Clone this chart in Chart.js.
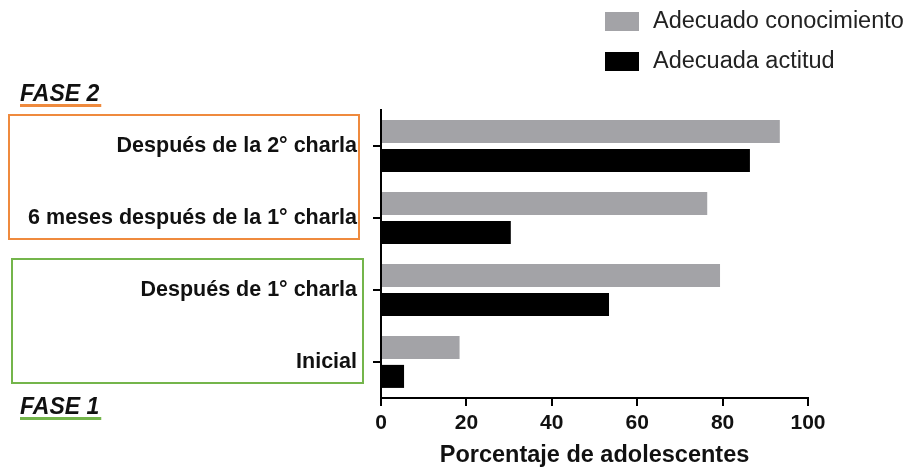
<!DOCTYPE html>
<html>
<head>
<meta charset="utf-8">
<script src="https://cdn.jsdelivr.net/npm/chart.js@4.4.1/dist/chart.umd.min.js"></script>
<style>
    html, body { margin: 0; padding: 0; background: #fff; }
    #wrap { width: 907px; height: 470px; position: relative; }
</style>
</head>
<body>
<div id="wrap"><canvas id="chart"></canvas></div>
<script>
const categories = ['Después de la 2° charla', '6 meses después de la 1° charla', 'Después de 1° charla', 'Inicial']
const conocimiento = [93.4, 76.4, 79.4, 18.4]
const actitud = [86.4, 30.4, 53.4, 5.4]
const xTicks = [0, 20, 40, 60, 80, 100]
const seriesNames = ['Adecuado conocimiento', 'Adecuada actitud']
const phases = [
    { label: 'FASE 2', first: 0, last: 1, color: '#ef8a3d', left: 9, right: 359, labelAbove: true },
    { label: 'FASE 1', first: 2, last: 3, color: '#74b54b', left: 12, right: 363, labelAbove: false }
]

const font = "'Liberation Sans', Arial, Helvetica, sans-serif"

// Boxes, phase labels and legend
const decorations = {
    id: 'decorations',
    afterDraw(chart) {
        const ctx = chart.ctx
        const y = chart.scales.y
        ctx.save()

        phases.forEach(p => {
            const top = y.getPixelForValue(p.first) - 31
            const bottom = y.getPixelForValue(p.last) + 21
            ctx.strokeStyle = p.color
            ctx.lineWidth = 2
            ctx.strokeRect(p.left, top, p.right - p.left, bottom - top)

            ctx.font = `italic bold 23px ${font}`
            ctx.fillStyle = '#111'
            ctx.textAlign = 'left'
            ctx.textBaseline = 'alphabetic'
            const base = p.labelAbove ? top - 14 : bottom + 31
            ctx.fillText(p.label, 20, base)
            const w = ctx.measureText(p.label).width
            ctx.fillStyle = p.color
            ctx.fillRect(20, base + 3, w + 2, 3)
        })

        // legend
        chart.data.datasets.forEach((ds, i) => {
            const ly = 12 + i * 40
            ctx.fillStyle = ds.backgroundColor
            ctx.fillRect(605, ly, 34, 19)
            ctx.fillStyle = '#222'
            ctx.font = `23.5px ${font}`
            ctx.textAlign = 'left'
            ctx.textBaseline = 'middle'
            ctx.fillText(ds.label, 653, ly + 10)
        })

        ctx.restore()
    }
}

new Chart(document.getElementById('chart'), {
    type: 'bar',
    data: {
        labels: categories,
        datasets: [
            { label: seriesNames[0], data: conocimiento, backgroundColor: '#a3a3a7' },
            { label: seriesNames[1], data: actitud, backgroundColor: '#000000' }
        ]
    },
    options: {
        indexAxis: 'y',
        responsive: true,
        maintainAspectRatio: false,
        animation: false,
        categoryPercentage: 0.8,
        barPercentage: 0.8,
        layout: { padding: { top: 110, right: 99, left: 0, bottom: 0 } },
        plugins: {
            legend: { display: false },
            tooltip: { enabled: false }
        },
        scales: {
            x: {
                min: 0,
                max: 100,
                afterBuildTicks: scale => { scale.ticks = xTicks.map(v => ({ value: v })) },
                afterFit: scale => { scale.height = 72 },
                border: { display: true, color: '#000', width: 2 },
                grid: { drawOnChartArea: false, drawTicks: true, tickLength: 8, color: '#000', lineWidth: 2 },
                ticks: { color: '#111', padding: 5, font: { family: font, size: 21, weight: 'bold' } },
                title: {
                    display: true,
                    text: 'Porcentaje de adolescentes',
                    color: '#111',
                    padding: { top: 1, bottom: 0 },
                    font: { family: font, size: 23.5, weight: 'bold' }
                }
            },
            y: {
                afterFit: scale => { scale.width = 381 },
                border: { display: true, color: '#000', width: 2 },
                grid: { offset: false, drawOnChartArea: false, drawTicks: true, tickLength: 8, color: '#000', lineWidth: 2 },
                ticks: { color: '#111', padding: 16, font: { family: font, size: 21.5, weight: 'bold' } }
            }
        }
    },
    plugins: [decorations]
})
</script>
</body>
</html>
